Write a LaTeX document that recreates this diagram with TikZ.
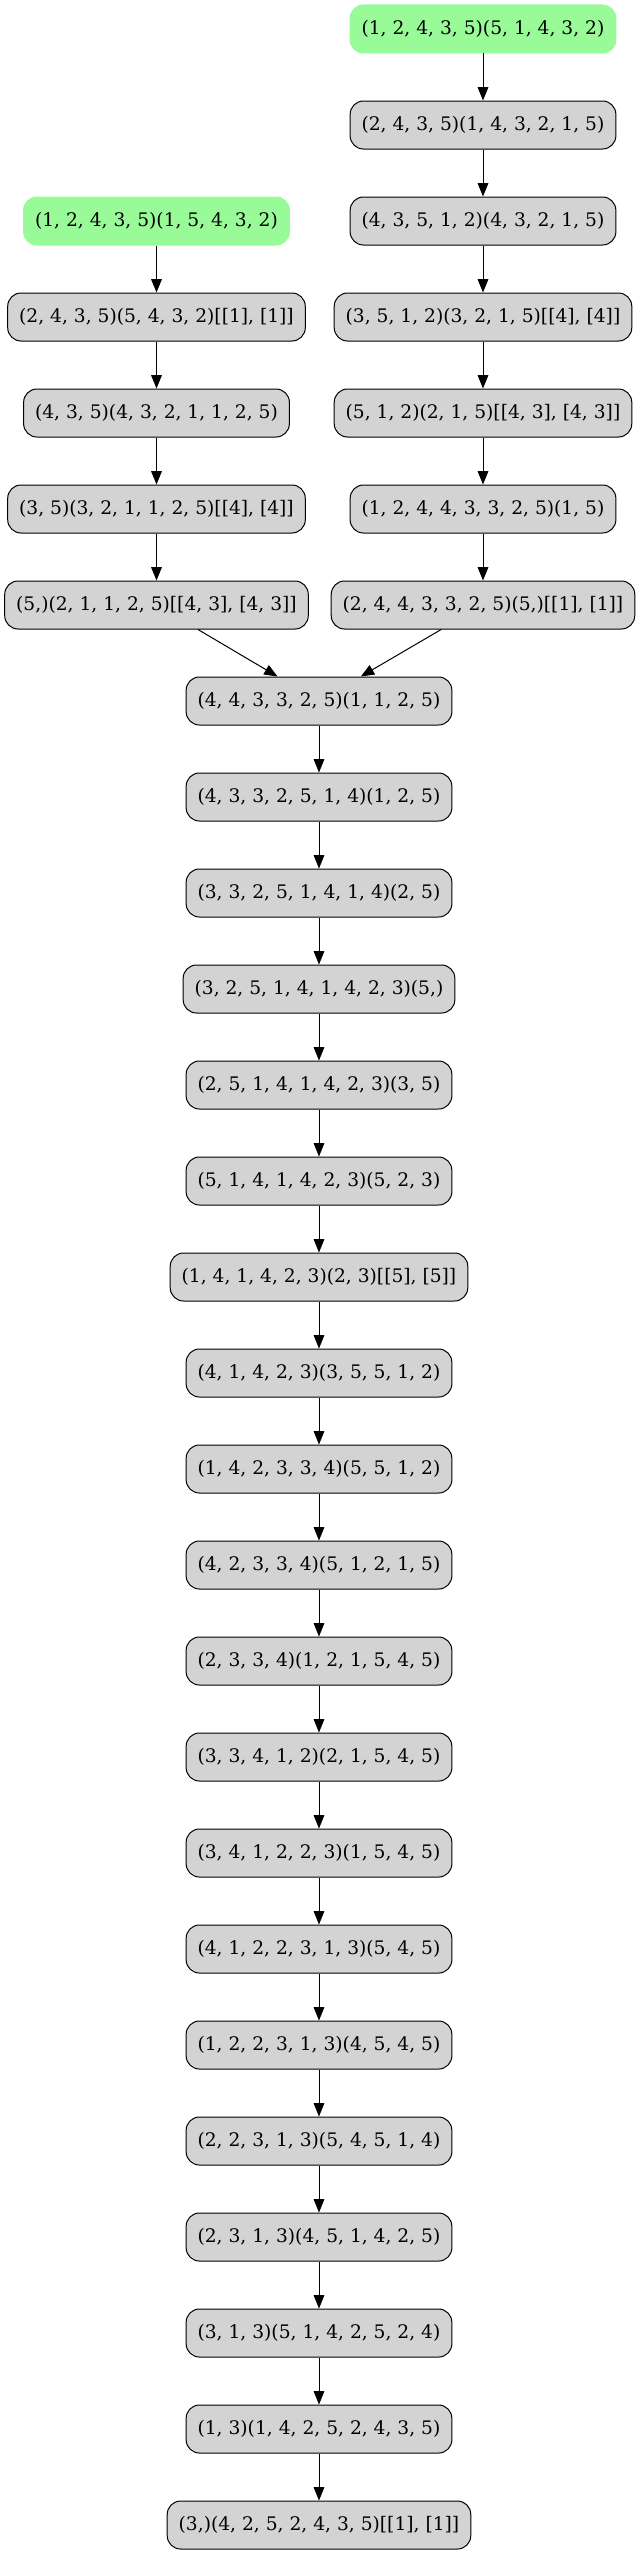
\documentclass[tikz,border=0pt]{standalone}
\usepackage{fontspec}
\setmainfont{DejaVu Serif}
\usetikzlibrary{arrows.meta}
\definecolor{pgreen}{HTML}{98FB98}
\definecolor{lgray}{HTML}{D3D3D3}
\tikzset{
  statebox/.style={draw=black, line width=0.75pt, fill=lgray, rounded corners=10pt,
    minimum height=36pt, inner xsep=8.6pt, inner ysep=0pt, font=\fontsize{14}{16}\selectfont},
  startbox/.style={statebox, draw=pgreen, fill=pgreen},
  edge/.style={line width=0.75pt, -{Triangle[length=10pt,width=8pt]}}
}
\begin{document}
\begin{tikzpicture}[x=0.75pt,y=-0.75pt]
\useasboundingbox (0,0) rectangle (640,2555);
\node[startbox] (g1) at (483,29) {(1, 2, 4, 3, 5)(5, 1, 4, 3, 2)};
\node[statebox] (r1) at (483,125) {(2, 4, 3, 5)(1, 4, 3, 2, 1, 5)};
\node[statebox] (r2) at (483,221) {(4, 3, 5, 1, 2)(4, 3, 2, 1, 5)};
\node[startbox] (g2) at (156.5,221) {(1, 2, 4, 3, 5)(1, 5, 4, 3, 2)};
\node[statebox] (l1) at (156.5,317) {(2, 4, 3, 5)(5, 4, 3, 2)[[1], [1]]};
\node[statebox] (r3) at (483,317) {(3, 5, 1, 2)(3, 2, 1, 5)[[4], [4]]};
\node[statebox] (l2) at (156.5,413) {(4, 3, 5)(4, 3, 2, 1, 1, 2, 5)};
\node[statebox] (r4) at (483,413) {(5, 1, 2)(2, 1, 5)[[4, 3], [4, 3]]};
\node[statebox] (l3) at (156.5,509) {(3, 5)(3, 2, 1, 1, 2, 5)[[4], [4]]};
\node[statebox] (r5) at (483,509) {(1, 2, 4, 4, 3, 3, 2, 5)(1, 5)};
\node[statebox] (l4) at (156.5,605) {(5,)(2, 1, 1, 2, 5)[[4, 3], [4, 3]]};
\node[statebox] (r6) at (483,605) {(2, 4, 4, 3, 3, 2, 5)(5,)[[1], [1]]};
\node[statebox] (m1) at (319,701) {(4, 4, 3, 3, 2, 5)(1, 1, 2, 5)};
\node[statebox] (m2) at (319,797) {(4, 3, 3, 2, 5, 1, 4)(1, 2, 5)};
\node[statebox] (m3) at (319,893) {(3, 3, 2, 5, 1, 4, 1, 4)(2, 5)};
\node[statebox] (m4) at (319,989) {(3, 2, 5, 1, 4, 1, 4, 2, 3)(5,)};
\node[statebox] (m5) at (319,1085) {(2, 5, 1, 4, 1, 4, 2, 3)(3, 5)};
\node[statebox] (m6) at (319,1181) {(5, 1, 4, 1, 4, 2, 3)(5, 2, 3)};
\node[statebox] (m7) at (319,1277) {(1, 4, 1, 4, 2, 3)(2, 3)[[5], [5]]};
\node[statebox] (m8) at (319,1373) {(4, 1, 4, 2, 3)(3, 5, 5, 1, 2)};
\node[statebox] (m9) at (319,1469) {(1, 4, 2, 3, 3, 4)(5, 5, 1, 2)};
\node[statebox] (m10) at (319,1565) {(4, 2, 3, 3, 4)(5, 1, 2, 1, 5)};
\node[statebox] (m11) at (319,1661) {(2, 3, 3, 4)(1, 2, 1, 5, 4, 5)};
\node[statebox] (m12) at (319,1757) {(3, 3, 4, 1, 2)(2, 1, 5, 4, 5)};
\node[statebox] (m13) at (319,1853) {(3, 4, 1, 2, 2, 3)(1, 5, 4, 5)};
\node[statebox] (m14) at (319,1949) {(4, 1, 2, 2, 3, 1, 3)(5, 4, 5)};
\node[statebox] (m15) at (319,2045) {(1, 2, 2, 3, 1, 3)(4, 5, 4, 5)};
\node[statebox] (m16) at (319,2141) {(2, 2, 3, 1, 3)(5, 4, 5, 1, 4)};
\node[statebox] (m17) at (319,2237) {(2, 3, 1, 3)(4, 5, 1, 4, 2, 5)};
\node[statebox] (m18) at (319,2333) {(3, 1, 3)(5, 1, 4, 2, 5, 2, 4)};
\node[statebox] (m19) at (319,2429) {(1, 3)(1, 4, 2, 5, 2, 4, 3, 5)};
\node[statebox] (m20) at (319,2525) {(3,)(4, 2, 5, 2, 4, 3, 5)[[1], [1]]};
\draw[edge] (g1) -- (r1);
\draw[edge] (r1) -- (r2);
\draw[edge] (r2) -- (r3);
\draw[edge] (r3) -- (r4);
\draw[edge] (r4) -- (r5);
\draw[edge] (r5) -- (r6);
\draw[edge] (r6) -- (m1);
\draw[edge] (g2) -- (l1);
\draw[edge] (l1) -- (l2);
\draw[edge] (l2) -- (l3);
\draw[edge] (l3) -- (l4);
\draw[edge] (l4) -- (m1);
\foreach \a/\b in {1/2,2/3,3/4,4/5,5/6,6/7,7/8,8/9,9/10,10/11,11/12,12/13,13/14,14/15,15/16,16/17,17/18,18/19,19/20}
  \draw[edge] (m\a) -- (m\b);
\end{tikzpicture}
\end{document}
